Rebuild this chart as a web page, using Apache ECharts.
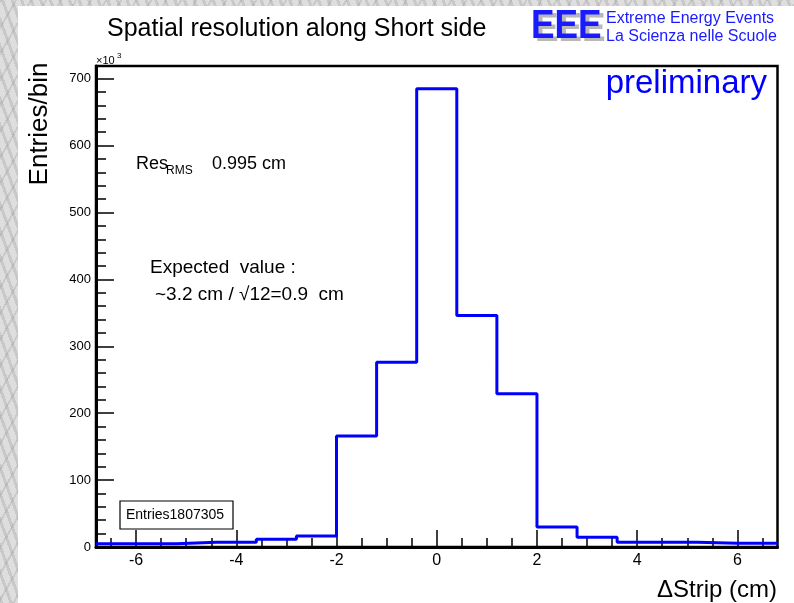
<!DOCTYPE html>
<html>
<head>
<meta charset="utf-8">
<script src="https://cdn.jsdelivr.net/npm/echarts@6/dist/echarts.min.js"></script>
<style>
  html, body { margin:0; padding:0; }
  body {
    width:794px; height:603px; position:relative; overflow:hidden;
    background:
      repeating-linear-gradient(70deg, rgba(150,150,150,0.30) 0px, rgba(150,150,150,0.30) 3px, rgba(255,255,255,0) 3px, rgba(255,255,255,0) 9px),
      repeating-linear-gradient(120deg, rgba(120,120,120,0.20) 0px, rgba(120,120,120,0.20) 2px, rgba(255,255,255,0) 2px, rgba(255,255,255,0) 13px),
      #dedede;
  }
  #paper { position:absolute; left:18px; top:6px; width:776px; height:597px; background:#fff; }
  #chart { position:absolute; left:0; top:0; width:794px; height:603px; }
</style>
</head>
<body>
<div id="paper"></div>
<div id="chart"></div>
<script>
// ---- data (counts in units of 10^3 entries per bin) ----
const binWidth = 0.8;
const binCenters = [-6.4, -5.6, -4.8, -4.0, -3.2, -2.4, -1.6, -0.8, 0.0, 0.8, 1.6, 2.4, 3.2, 4.0, 4.8, 5.6, 6.4];
const binCounts  = [5, 5, 7, 7, 11.5, 16.5, 166, 276, 685, 346, 229, 30, 14.5, 7, 7, 5.5, 5.5];
const xMajorTicks = [-6, -4, -2, 0, 2, 4, 6];
const yMajorTicks = [0, 100, 200, 300, 400, 500, 600, 700];
const xRange = [-6.8, 6.8];
const yRange = [0, 719];

// minor ticks
const xMinorTicks = [];
for (let v = -6.5; v <= 6.5 + 1e-9; v += 0.5) {
  const r = Math.round(v * 10) / 10;
  if (Math.abs(r % 2) > 1e-9) xMinorTicks.push(r);
}
const yMinorTicks = [];
for (let v = 20; v < yRange[1]; v += 20) { if (v % 100 !== 0) yMinorTicks.push(v); }

// step outline points: left edge of each bin, plus right edge of last bin
const stepData = binCenters.map((c, i) => [Math.round((c - binWidth / 2) * 10) / 10, binCounts[i]]);
stepData.push([Math.round((binCenters[binCenters.length - 1] + binWidth / 2) * 10) / 10, binCounts[binCounts.length - 1]]);

const FONT = 'Liberation Sans, Arial, Helvetica, sans-serif';
const chart = echarts.init(document.getElementById('chart'), null, { renderer: 'canvas' });

const tickStyle = { color: '#000', width: 1.5 };

chart.setOption({
  backgroundColor: 'transparent',
  animation: false,
  grid: { left: 96, right: 16.5, top: 66, bottom: 56, show: true, borderColor: '#000', borderWidth: 2.5, backgroundColor: '#fff' },
  xAxis: [
    {
      type: 'value', min: xRange[0], max: xRange[1],
      axisLine: { show: true, onZero: false, lineStyle: { color: '#000', width: 3 } },
      axisTick: { show: true, inside: true, length: 17, customValues: xMajorTicks, lineStyle: tickStyle },
      axisLabel: { show: true, customValues: xMajorTicks, fontSize: 16, color: '#000', fontFamily: FONT, margin: 6 },
      splitLine: { show: false }
    },
    {
      type: 'value', min: xRange[0], max: xRange[1], position: 'bottom',
      axisLine: { show: false, onZero: false },
      axisTick: { show: true, inside: true, length: 9, customValues: xMinorTicks, lineStyle: tickStyle },
      axisLabel: { show: false },
      splitLine: { show: false }
    }
  ],
  yAxis: [
    {
      type: 'value', min: yRange[0], max: yRange[1],
      axisLine: { show: true, onZero: false, lineStyle: { color: '#000', width: 3 } },
      axisTick: { show: true, inside: true, length: 18, customValues: yMajorTicks, lineStyle: tickStyle },
      axisLabel: { show: true, customValues: yMajorTicks, fontSize: 13, color: '#000', fontFamily: FONT, margin: 5 },
      splitLine: { show: false }
    },
    {
      type: 'value', min: yRange[0], max: yRange[1], position: 'left',
      axisLine: { show: false, onZero: false },
      axisTick: { show: true, inside: true, length: 10, customValues: yMinorTicks, lineStyle: tickStyle },
      axisLabel: { show: false },
      splitLine: { show: false }
    }
  ],
  series: [{
    type: 'line', xAxisIndex: 0, yAxisIndex: 0,
    data: stepData, step: 'end', symbol: 'none', clip: true,
    lineStyle: { color: '#0000ff', width: 3 }, z: 5
  }],
  graphic: [
    { type: 'text', x: 107, y: 29, style: { text: 'Spatial resolution along Short side', font: '25px ' + FONT, fill: '#000', verticalAlign: 'middle' } },
    // EEE logo
    { type: 'text', x: 535, y: 30, scaleX: 0.86, style: { text: 'EEE', font: 'bold 41px ' + FONT, fill: '#b8b8b8', verticalAlign: 'middle' } },
    { type: 'text', x: 531, y: 27, scaleX: 0.86, style: { text: 'EEE', font: 'bold 41px ' + FONT, fill: '#1a1aff', verticalAlign: 'middle' } },
    { type: 'text', x: 606, y: 19, style: { text: 'Extreme Energy Events', font: '16px ' + FONT, fill: '#1a1aff', verticalAlign: 'middle' } },
    { type: 'text', x: 606, y: 37, style: { text: 'La Scienza nelle Scuole', font: '16px ' + FONT, fill: '#1a1aff', verticalAlign: 'middle' } },
    { type: 'text', x: 767, y: 84, style: { text: 'preliminary', font: '33px ' + FONT, fill: '#0000ff', align: 'right', verticalAlign: 'middle' } },
    // x10^3
    { type: 'text', x: 96, y: 61, style: { text: '\u00d710', font: '11px ' + FONT, fill: '#000', verticalAlign: 'middle' } },
    { type: 'text', x: 117, y: 56, style: { text: '3', font: '8px ' + FONT, fill: '#000', verticalAlign: 'middle' } },
    // axis titles
    { type: 'text', x: 40, y: 124, rotation: Math.PI / 2, style: { text: 'Entries/bin', font: '26px ' + FONT, fill: '#000', align: 'center', verticalAlign: 'middle' } },
    { type: 'text', x: 777, y: 590, style: { text: '\u0394Strip (cm)', font: '24px ' + FONT, fill: '#000', align: 'right', verticalAlign: 'middle' } },
    // annotations
    { type: 'text', x: 136, y: 164, style: { text: 'Res', font: '18px ' + FONT, fill: '#000', verticalAlign: 'middle' } },
    { type: 'text', x: 166, y: 171, style: { text: 'RMS', font: '12px ' + FONT, fill: '#000', verticalAlign: 'middle' } },
    { type: 'text', x: 212, y: 164, style: { text: '0.995 cm', font: '18px ' + FONT, fill: '#000', verticalAlign: 'middle' } },
    { type: 'text', x: 150, y: 268, style: { text: 'Expected  value :', font: '19px ' + FONT, fill: '#000', verticalAlign: 'middle' } },
    { type: 'text', x: 155, y: 295, style: { text: '~3.2 cm / \u221a12=0.9  cm', font: '19px ' + FONT, fill: '#000', verticalAlign: 'middle' } },
    // stats box
    { type: 'rect', shape: { x: 120, y: 501, width: 113, height: 28 }, style: { fill: '#fff', stroke: '#000', lineWidth: 1.2 }, z: 10 },
    { type: 'text', x: 126, y: 515, z: 11, style: { text: 'Entries1807305', font: '14px ' + FONT, fill: '#000', verticalAlign: 'middle' } }
  ]
});
</script>
</body>
</html>
